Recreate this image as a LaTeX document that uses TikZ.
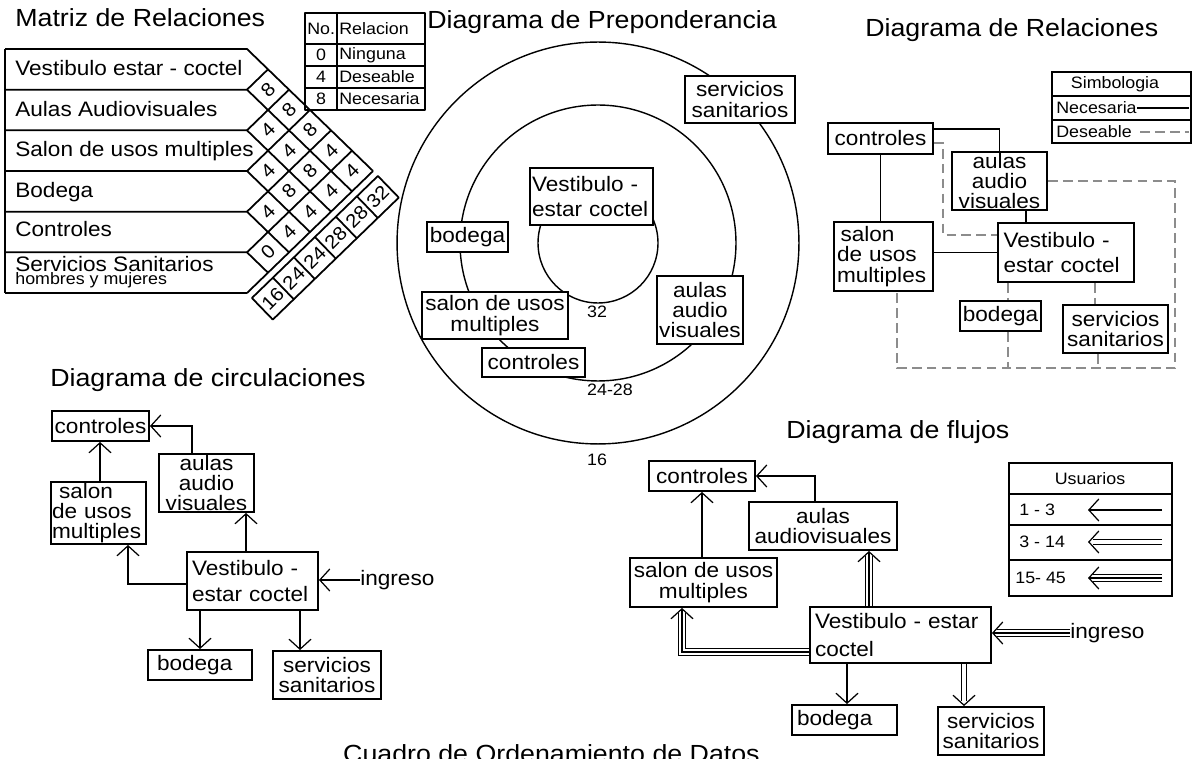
\documentclass[tikz,border=0pt]{standalone}
\usepackage{fontspec}
\setmainfont{Liberation Sans}[FakeStretch=1.08]
\usepackage{tikz}
\usetikzlibrary{arrows.meta}
\definecolor{desgray}{HTML}{8C8C8C}
\hyphenpenalty=10000
\exhyphenpenalty=10000

\newcommand{\ttlfont}{\fontsize{14.1}{16}\selectfont}
\newcommand{\boxfont}{\fontsize{11.9}{11.6}\selectfont}
\newcommand{\smallfont}{\fontsize{9.4}{10}\selectfont}
\newcommand{\cellfont}{\fontsize{10.8}{11}\selectfont}

\begin{document}
\begin{tikzpicture}[
    x=0.02cm, y=-0.02cm,
    ttl/.style={anchor=base west, inner sep=0pt, font=\ttlfont},
    box/.style={draw, fill=white, line width=1.1pt, inner sep=0pt, align=center, font=\boxfont},
    lbox/.style={box, align=left},
    rowtxt/.style={anchor=base west, inner sep=0pt, font=\boxfont},
    smalltxt/.style={inner sep=0pt, font=\smallfont},
    cell/.style={inner sep=0pt, rotate=45, font=\cellfont},
    mline/.style={line width=1pt, line join=round},
    ring/.style={line width=0.8pt},
    nec/.style={line width=0.7pt},
    des/.style={line width=0.6pt, draw=desgray, dash pattern=on 5.5pt off 3pt},
    one/.style={-{Straight Barb[length=0.2cm, width=0.44cm]}, line width=0.7pt},
    two/.style={one, dash pattern=on 0pt off 30cm,
      preaction={draw, -, solid, line width=3.8pt, shorten >=0.1cm},
      preaction={draw=white, -, solid, line width=2.4pt, shorten >=0.1cm}},
    three/.style={one,
      preaction={draw, -, solid, line width=4.6pt, shorten >=0.1cm},
      preaction={draw=white, -, solid, line width=3.2pt, shorten >=0.1cm}}
  ]
  \useasboundingbox (0,0) rectangle (1193,759);
  \clip (0,0) rectangle (1193,759);

  % titles
  \node[ttl] (tmat) at (15,27) {Matriz de Relaciones};
  \node[ttl] (tpre) at (427,29) {Diagrama de Preponderancia};
  \node[ttl] (trel) at (865,37) {Diagrama de Relaciones};
  \node[ttl] (tcir) at (50,387) {Diagrama de circulaciones};
  \node[ttl] (tflu) at (786,439) {Diagrama de flujos};
  \node[ttl, anchor=base east] (tcua) at (760,762) {Cuadro de Ordenamiento de Datos};

  % matriz de relaciones
  \foreach \k in {0,...,6} {
    \pgfmathsetmacro{\by}{49+40.67*\k}
    \draw[mline] (5,\by) -- (247,\by) -- ++({21*(6-\k)},{20.33*(6-\k)});
    \draw[mline] (247,\by) -- ++({21*\k},{-20.33*\k});
  }
  \draw[mline] (5,49) -- (5,293);
  \node[rowtxt] (m1) at (15,76) {Vestibulo estar - coctel};
  \node[rowtxt] (m2) at (15,116.5) {Aulas Audiovisuales};
  \node[rowtxt] (m3) at (15,157) {Salon de usos multiples};
  \node[rowtxt] (m4) at (15,197.5) {Bodega};
  \node[rowtxt] (m5) at (15,237) {Controles};
  \node[rowtxt] (m6) at (15,272) {Servicios Sanitarios};
  \node[rowtxt, font=\smallfont] (m6b) at (15,285) {hombres y mujeres};
  \foreach \i/\j/\v in {1/2/8,1/3/8,1/4/8,1/5/4,1/6/4,2/3/4,2/4/4,2/5/8,2/6/4,
                        3/4/4,3/5/8,3/6/4,4/5/4,4/6/4,5/6/0}
    \node[cell] (c\i\j) at ({247+21*(\j-\i)},{49+20.335*(\i+\j-1)}) {\v};
  \draw[mline] (251.9,298) -- (377.9,176) -- (398.8,197.6) -- (272.8,319.6) -- cycle;
  \foreach \m in {1,...,5}
    \draw[mline] ({251.9+21*\m},{298-20.33*\m}) -- ++(20.9,21.6);
  \foreach \m/\t in {0/16,1/24,2/24,3/28,4/28,5/32}
    \node[cell] (s\m) at ({272.8+21*\m},{298.6-20.33*\m}) {\t};

  \draw[mline] (305,13) rectangle (425,110);
  \draw[mline] (305,44) -- (425,44) (305,66) -- (425,66) (305,88) -- (425,88)
    (337,13) -- (337,110);
  \node[smalltxt, anchor=west] (lno) at (307,29) {No.};
  \node[smalltxt, anchor=west] (lrel) at (339,29) {Relacion};
  \node[smalltxt] (l0) at (321,55) {0};
  \node[smalltxt, anchor=west] (l0t) at (339,55) {Ninguna};
  \node[smalltxt] (l4) at (321,77) {4};
  \node[smalltxt, anchor=west] (l4t) at (339,77) {Deseable};
  \node[smalltxt] (l8) at (321,99) {8};
  \node[smalltxt, anchor=west] (l8t) at (339,99) {Necesaria};

  % diagrama de preponderancia
  \draw[ring] (598,243) circle[radius=4.02cm];
  \draw[ring] (598,243) circle[radius=2.76cm];
  \draw[ring] (598,243) circle[radius=1.2cm];
  \node[lbox, text width=2.38cm, inner xsep=0.04cm, minimum height=1.14cm] (pvest) at (591.5,196.5) {Vestibulo -\\[3pt]estar coctel};
  \node[box, minimum width=1.62cm, minimum height=0.6cm] (pbod) at (467.5,237) {bodega};
  \node[box, minimum width=2.92cm, minimum height=0.94cm] (psalon) at (495,315.5) {salon de usos\\multiples};
  \node[box, minimum width=2.06cm, minimum height=0.58cm] (pctrl) at (533.5,362.5) {controles};
  \node[box, minimum width=1.72cm, minimum height=1.36cm] (paulas) at (700,310) {aulas\\audio\\visuales};
  \node[box, minimum width=2.2cm, minimum height=0.94cm] (pserv) at (740,99.5) {servicios\\sanitarios};
  \node[smalltxt] (n32) at (597,312) {32};
  \node[smalltxt] (n2428) at (610,390) {24-28};
  \node[smalltxt] (n16) at (597,460) {16};

  % diagrama de relaciones
  \node[box, minimum width=2.1cm, minimum height=0.62cm] (rctrl) at (880.5,138.5) {controles};
  \node[box, minimum width=1.9cm, minimum height=1.16cm] (raulas) at (999.5,181) {aulas\\audio\\visuales};
  \node[lbox, text width=2.5cm, inner xsep=0.11cm, minimum height=1.18cm] (rvest) at (1066,252.5) {Vestibulo -\\[3pt]estar coctel};
  \node[lbox, text width=1.86cm, inner xsep=0.06cm, minimum height=1.38cm] (rsalon) at (883.5,256.5) {\hspace{2pt}salon\\de usos\\multiples};
  \node[box, minimum width=1.62cm, minimum height=0.6cm] (rbod) at (1000.5,316) {bodega};
  \node[box, minimum width=2.1cm, minimum height=0.96cm] (rserv) at (1115.5,329) {servicios\\sanitarios};
  \draw[nec] ([yshift=-0.14cm]rctrl.north east) -| (raulas.north);
  \draw[nec] (rctrl.south) -- (rctrl.south |- rsalon.north);
  \draw[nec] (1026,0 |- raulas.south) -- (1026,0 |- rvest.north);
  \draw[nec] (rsalon.east |- rvest.west) -- (rvest.west);
  \draw[des] (rctrl.east |- 0,143) -- (943,143) |- (rvest.west |- 0,235);
  \draw[des] (raulas.east) -| (1175,368) -| (897,0 |- rsalon.south);
  \draw[des] (1008,0 |- rvest.south) -- (1008,0 |- rbod.north);
  \draw[des] (1008,0 |- rbod.south) -- (1008,368);
  \draw[des] (1095,0 |- rvest.south) -- (1095,0 |- rserv.north);
  \draw[des] (1098,0 |- rserv.south) -- (1098,368);

  \draw[line width=1.1pt] (1052,72) rectangle (1191,143);
  \draw[line width=1.5pt] (1052,96) -- (1191,96) (1052,120) -- (1191,120);
  \node[smalltxt] (sim) at (1115,84) {Simbologia};
  \node[smalltxt, anchor=west] (snec) at (1056,108) {Necesaria};
  \node[smalltxt, anchor=west] (sdes) at (1056,132) {Deseable};
  \coordinate (snecend) at (1189,108);
  \coordinate (sdesa) at (1140,132);
  \coordinate (sdesend) at (1189,132);
  \draw[nec] (snec.east) -- (snecend);
  \draw[des] (sdesa) -- (sdesend);

  % diagrama de circulaciones
  \node[box, minimum width=1.94cm, minimum height=0.6cm] (cctrl) at (100.5,426) {controles};
  \node[box, minimum width=1.9cm, minimum height=1.16cm] (caulas) at (206.5,483) {aulas\\audio\\visuales};
  \node[lbox, text width=1.86cm, inner xsep=0.02cm, minimum height=1.24cm] (csalon) at (98.5,513) {\hspace{4pt}salon\\de usos\\multiples};
  \node[lbox, text width=2.42cm, inner xsep=0.1cm, minimum height=1.16cm] (cvest) at (252.5,581) {Vestibulo -\\[3pt]estar coctel};
  \node[lbox, text width=1.72cm, inner xsep=0.18cm, minimum height=0.6cm] (cbod) at (200,665) {bodega};
  \node[box, minimum width=2.16cm, minimum height=0.96cm] (cserv) at (327,675) {servicios\\sanitarios};
  \node[anchor=west, inner sep=0pt, font=\boxfont] (cin) at (360,580) {ingreso};
  \draw[one] (192,0 |- caulas.north) |- (cctrl.east);
  \draw[one] (100,0 |- csalon.north) -- (100,0 |- cctrl.south);
  \draw[one] (246,0 |- cvest.north) -- (246,0 |- caulas.south);
  \draw[one] (cvest.west |- 0,584) -| (128,0 |- csalon.south);
  \draw[one] (cvest.south -| cbod.north) -- (cbod.north);
  \draw[one] (300,0 |- cvest.south) -- (300,0 |- cserv.north);
  \draw[one] (cin.west) -- (cvest.east |- cin.west);

  % diagrama de flujos
  \node[box, minimum width=2.12cm, minimum height=0.6cm] (fctrl) at (702,476) {controles};
  \node[box, minimum width=2.96cm, minimum height=0.96cm] (faulas) at (823,526) {aulas\\audiovisuales};
  \node[box, minimum width=2.94cm, minimum height=0.98cm] (fsalon) at (703.5,582.5) {salon de usos\\multiples};
  \node[lbox, text width=3.42cm, inner xsep=0.1cm, minimum height=1.12cm] (fvest) at (900.5,635) {Vestibulo - estar\\[4pt]coctel};
  \node[lbox, text width=1.9cm, inner xsep=0.1cm, minimum height=0.6cm] (fbod) at (844.5,720) {bodega};
  \node[box, minimum width=2.12cm, minimum height=0.96cm] (fserv) at (991,731) {servicios\\sanitarios};
  \node[anchor=west, inner sep=0pt, font=\boxfont] (fin) at (1070,633) {ingreso};
  \draw[one] (815,0 |- faulas.north) |- (fctrl.east);
  \draw[one] (fctrl.south |- fsalon.north) -- (fctrl.south);
  \draw[three] (869,0 |- fvest.north) -- (869,0 |- faulas.south);
  \draw[three] (fvest.west |- 0,652) -| (682,0 |- fsalon.south);
  \draw[one] (847,0 |- fvest.south) -- (847,0 |- fbod.north);
  \draw[two] (964,0 |- fvest.south) -- (964,0 |- fserv.north);
  \draw[three] (fin.west) -- (fvest.east |- fin.west);

  \draw[line width=1.1pt] (1009,463) rectangle (1172,596);
  \draw[line width=1.5pt] (1009,494) -- (1172,494) (1009,525) -- (1172,525) (1009,560) -- (1172,560);
  \node[smalltxt] (usu) at (1090,479) {Usuarios};
  \node[smalltxt, anchor=west] (u1) at (1019,510) {1 - 3};
  \node[smalltxt, anchor=west] (u2) at (1019,542) {3 - 14};
  \node[smalltxt, anchor=west] (u3) at (1015,578) {15- 45};
  \coordinate (u1a) at (1162,510); \coordinate (u1b) at (1088,510);
  \coordinate (u2a) at (1162,542); \coordinate (u2b) at (1088,542);
  \coordinate (u3a) at (1162,578); \coordinate (u3b) at (1088,578);
  \draw[one] (u1a) -- (u1b);
  \draw[two] (u2a) -- (u2b);
  \draw[three] (u3a) -- (u3b);
\end{tikzpicture}
\end{document}
